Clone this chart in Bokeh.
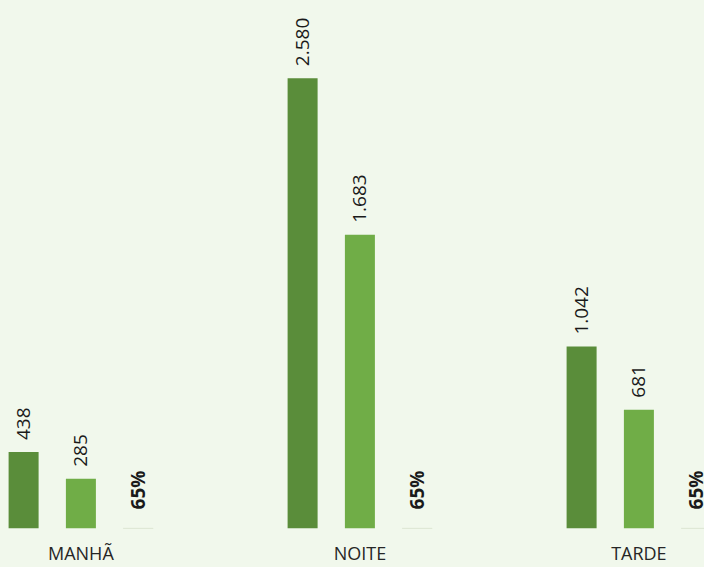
import math
from bokeh.plotting import figure
from bokeh.models import ColumnDataSource, Range1d, FixedTicker, GlobalInlineStyleSheet
from bokeh.transform import dodge
from bokeh.core.properties import value
from bokeh.embed import file_html
from bokeh.resources import INLINE

# ---- data ----
categories = ["MANHÃ", "NOITE", "TARDE"]
serie_total = [438, 2580, 1042]
serie_parcial = [285, 1683, 681]
serie_pct = [0.65, 0.65, 0.65]
pct_labels = ["65%", "65%", "65%"]

def fmt(v):
    return f"{v:,}".replace(",", ".")

BG = "#F1F8EC"
DARK = "#5A8D3A"
LIGHT = "#70AD47"

src = ColumnDataSource(dict(
    idx=list(range(len(categories))),
    total=serie_total,
    parcial=serie_parcial,
    pct=serie_pct,
    total_lbl=[fmt(v) for v in serie_total],
    parcial_lbl=[fmt(v) for v in serie_parcial],
    pct_lbl=pct_labels,
))

PX_PER_CAT = 279.0
start = -80.4 / PX_PER_CAT
end = start + 704 / PX_PER_CAT
STEP = 57.3 / PX_PER_CAT
BW = 30 / PX_PER_CAT

p = figure(width=704, height=567, output_backend="svg", toolbar_location=None,
           x_range=Range1d(start, end), y_range=Range1d(0, 3025),
           y_axis_location=None, min_border=0, min_border_bottom=37)
p.background_fill_color = BG
p.border_fill_color = BG
p.outline_line_color = None
p.grid.visible = False
p.stylesheets = [GlobalInlineStyleSheet(css=f"html, body {{ background-color: {BG}; }}")]

p.vbar(x=dodge("idx", -STEP, range=p.x_range), top="total", width=BW, bottom=0,
       source=src, fill_color=DARK, line_color=None)
p.vbar(x=dodge("idx", 0, range=p.x_range), top="parcial", width=BW, bottom=0,
       source=src, fill_color=LIGHT, line_color=None)
p.vbar(x=dodge("idx", STEP, range=p.x_range), top="pct", width=BW, bottom=0,
       source=src, fill_color="#D8E2CE", line_color="#D8E2CE", line_width=1)

common = dict(angle=math.pi / 2, text_align="left", text_baseline="middle",
              text_font=value("Open Sans"), text_font_size="19px", text_color="#1a1a1a")
p.text(x=dodge("idx", -STEP, range=p.x_range), y="total", text="total_lbl",
       y_offset=-12, source=src, **common)
p.text(x=dodge("idx", 0, range=p.x_range), y="parcial", text="parcial_lbl",
       y_offset=-12, source=src, **common)
p.text(x=dodge("idx", STEP, range=p.x_range), y="pct", text="pct_lbl",
       y_offset=-19, source=src, text_font_style="bold", **common)

ax = p.xaxis[0]
ax.ticker = FixedTicker(ticks=[0, 1, 2])
ax.major_label_overrides = {0: categories[0], 1: categories[1], 2: categories[2]}
ax.axis_line_color = None
ax.major_tick_line_color = None
ax.minor_tick_line_color = None
ax.major_tick_out = 0
ax.major_tick_in = 0
ax.major_label_standoff = 12
ax.major_label_text_font = "Open Sans"
ax.major_label_text_font_size = "18px"
ax.major_label_text_color = "#262626"

open("out.html", "w").write(file_html(p, INLINE))
